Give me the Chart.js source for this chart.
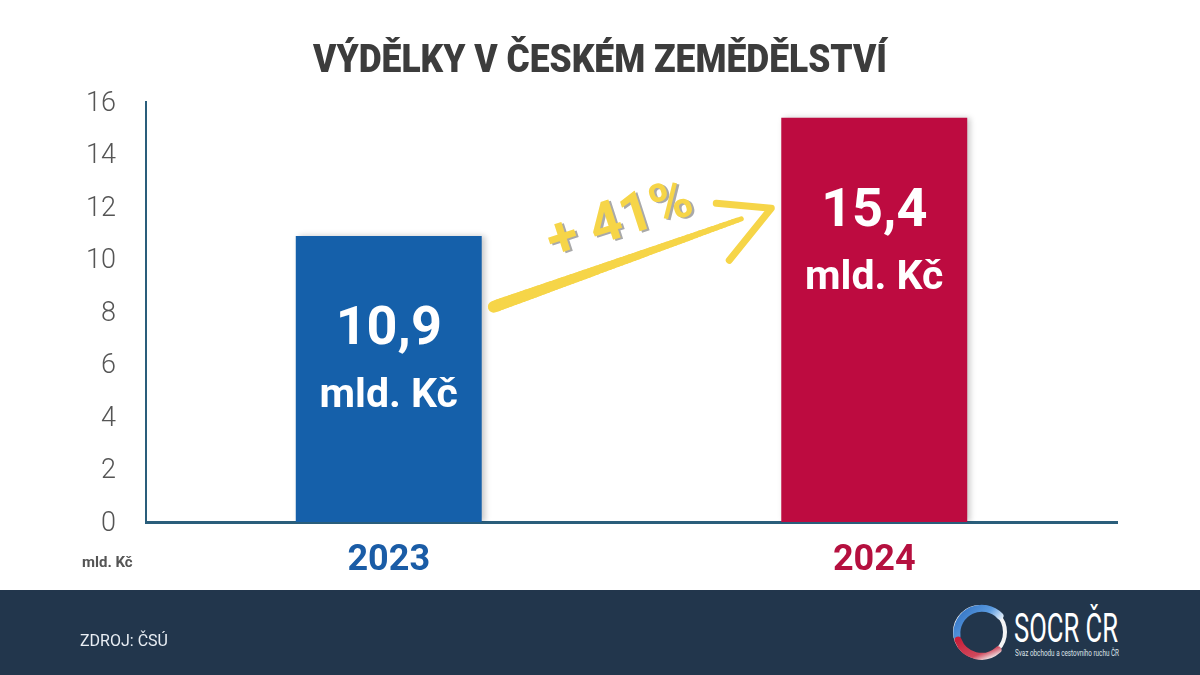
<!DOCTYPE html>
<html>
<head>
<meta charset="utf-8">
<script src="https://cdn.jsdelivr.net/npm/chart.js@4.4.1/dist/chart.umd.min.js"></script>
<style>
html,body{margin:0;padding:0;background:#fff;width:1200px;height:675px;overflow:hidden;font-family:Roboto,sans-serif}
#wrap{position:relative;width:1200px;height:590px}
#chartBox{position:absolute;left:0;top:0;width:1200px;height:590px}
#title{position:absolute;left:0;top:37px;width:1200px;text-align:center;color:#3c3c3c;white-space:nowrap;line-height:44px}
#title span{display:inline-block;font:900 38px Roboto;transform-origin:center center}
#unit{position:absolute;left:82px;top:553px;font:700 15px Roboto;color:#555;white-space:nowrap}
#footer{position:absolute;left:0;top:590px;width:1200px;height:85px;background:#22364c}
#src{position:absolute;left:80px;top:41px;font:400 16px Roboto;color:#e9eef4;white-space:nowrap}
#logo{position:absolute;left:948px;top:10px}
#lname{position:absolute;left:1014px;top:16px;font:400 41px Roboto;color:#fff;white-space:nowrap;transform-origin:left top;line-height:44px}
#lsub{position:absolute;left:1015px;top:58px;font:400 9px Roboto;color:#dde3ea;white-space:nowrap;transform-origin:left top}
</style>
</head>
<body>
<div id="wrap">
  <div id="chartBox"><canvas id="c" width="1200" height="590"></canvas></div>
  <div id="title"><span id="titleText">VÝDĚLKY V ČESKÉM ZEMĚDĚLSTVÍ</span></div>
  <div id="unit">mld. Kč</div>
</div>
<div id="footer">
  <div id="src">ZDROJ: ČSÚ</div>
  <svg id="logo" width="64" height="64" viewBox="0 0 64 64">
    <defs>
      <linearGradient id="gb" x1="0" y1="0" x2="1" y2="0.6">
        <stop offset="0" stop-color="#2f6fc0"/>
        <stop offset="0.6" stop-color="#5a9be0"/>
        <stop offset="1" stop-color="#ffffff"/>
      </linearGradient>
      <linearGradient id="gr" x1="0" y1="0" x2="1" y2="1">
        <stop offset="0" stop-color="#c8203a"/>
        <stop offset="0.7" stop-color="#d0485c"/>
        <stop offset="1" stop-color="#f2f2f2"/>
      </linearGradient>
    </defs>
    <circle cx="32" cy="32" r="25" fill="none" stroke="#f4f4f4" stroke-width="4"/>
    <path d="M9 36 A25 25 0 0 1 52 16" fill="none" stroke="url(#gb)" stroke-width="7" stroke-linecap="round"/>
    <path d="M10 40 A25 25 0 0 0 50 50" fill="none" stroke="url(#gr)" stroke-width="7" stroke-linecap="round"/>
  </svg>
  <div id="lname">SOCR ČR</div>
  <div id="lsub">Svaz obchodu a cestovního ruchu ČR</div>
</div>
<script>
// ---- data ----
const categories = ['2023', '2024'];
const earnings = [10.9, 15.4];           // mld. Kč
const valueLabels = ['10,9', '15,4'];
const unitLabel = 'mld. Kč';
const growthLabel = '+ 41%';
const yTicks = [0, 2, 4, 6, 8, 10, 12, 14, 16];
const barColors = ['#1560aa', '#bd0b40'];
const labelColors = ['#1a5ca6', '#b5103f'];

// fit some HTML texts to their widths
function fitW(id, w) {
  const el = document.getElementById(id);
  const cw = el.getBoundingClientRect().width;
  el.style.transform = 'scaleX(' + (w / cw) + ')';
}
fitW('titleText', 574);
fitW('lname', 104);
fitW('lsub', 104);

const YELLOW = '#f6d548';

const overlay = {
  id: 'overlay',
  beforeDatasetsDraw(chart) {
    const ctx = chart.ctx;
    ctx.save();
    ctx.shadowColor = 'rgba(0,0,0,0.22)';
    ctx.shadowBlur = 6;
    ctx.shadowOffsetX = 3;
    ctx.shadowOffsetY = 0;
  },
  afterDatasetsDraw(chart) {
    const ctx = chart.ctx;
    ctx.restore();
    const ys = chart.scales.y;
    const meta = chart.getDatasetMeta(0);
    // value labels inside bars
    ctx.save();
    ctx.fillStyle = '#ffffff';
    ctx.textAlign = 'center';
    ctx.textBaseline = 'middle';
    meta.data.forEach((bar, i) => {
      ctx.font = '700 54px Roboto';
      ctx.fillText(valueLabels[i], bar.x, bar.y + 95);
      ctx.font = '700 41px Roboto';
      ctx.fillText(unitLabel, bar.x, bar.y + 161);
    });
    ctx.restore();

    // arrow between bars
    const b0 = meta.data[0], b1 = meta.data[1];
    const sx = b0.x + b0.width / 2 + 12, sy = ys.getPixelForValue(8.2);
    const ex = b1.x - b1.width / 2 - 40, ey = ys.getPixelForValue(11.55);
    const cx = (sx + ex) / 2, cy = (sy + ey) / 2;
    ctx.save();
    ctx.strokeStyle = YELLOW;
    ctx.lineCap = 'round';
    const N = 60;
    let px = sx, py = sy;
    for (let k = 1; k <= N; k++) {
      const t = k / N;
      const qx = (1 - t) * (1 - t) * sx + 2 * (1 - t) * t * cx + t * t * ex;
      const qy = (1 - t) * (1 - t) * sy + 2 * (1 - t) * t * cy + t * t * ey;
      ctx.lineWidth = 12 - 7 * t;
      ctx.beginPath();
      ctx.moveTo(px, py);
      ctx.lineTo(qx, qy);
      ctx.stroke();
      px = qx; py = qy;
    }
    // arrow head
    const vx = b1.x - b1.width / 2 - 10, vy = ys.getPixelForValue(11.95);
    ctx.lineWidth = 7;
    ctx.lineJoin = 'round';
    ctx.beginPath();
    ctx.moveTo(vx - 55, vy - 5);
    ctx.lineTo(vx, vy);
    ctx.lineTo(vx - 42, vy + 52);
    ctx.stroke();

    // growth label
    const tx = (sx + vx) / 2 - 12, ty = ys.getPixelForValue(11.4);
    ctx.translate(tx, ty);
    ctx.rotate(-18 * Math.PI / 180);
    ctx.font = '700 56px Roboto';
    ctx.textAlign = 'center';
    ctx.textBaseline = 'middle';
    ctx.fillStyle = '#a9a9a9';
    ctx.fillText(growthLabel, 2, 2);
    ctx.fillStyle = YELLOW;
    ctx.fillText(growthLabel, 0, 0);
    ctx.restore();
  }
};

new Chart(document.getElementById('c'), {
  type: 'bar',
  data: {
    labels: categories,
    datasets: [{
      data: earnings,
      backgroundColor: barColors,
      borderWidth: 0,
      categoryPercentage: 1,
      barPercentage: 0.383
    }]
  },
  options: {
    responsive: false,
    animation: false,
    events: [],
    layout: { padding: { top: 102, right: 83, left: 0, bottom: 0 } },
    plugins: { legend: { display: false }, tooltip: { enabled: false }, title: { display: false } },
    scales: {
      x: {
        grid: { display: false, drawTicks: false },
        border: { display: true, color: '#2a5e7b', width: 3 },
        ticks: {
          padding: 17,
          font: { family: 'Roboto', size: 36, weight: '700' },
          color: c => labelColors[c.index]
        },
        afterFit: s => { s.height = 68; }
      },
      y: {
        min: yTicks[0],
        max: yTicks[yTicks.length - 1],
        afterBuildTicks: s => { s.ticks = yTicks.map(v => ({ value: v })); },
        grid: { display: false, drawTicks: false },
        border: { display: true, color: '#2a5e7b', width: 2 },
        ticks: {
          padding: 30,
          labelOffset: 2,
          font: { family: 'Roboto', size: 27, weight: '300' },
          color: '#555555'
        },
        afterFit: s => { s.width = 146; }
      }
    }
  },
  plugins: [overlay]
});
</script>
</body>
</html>
